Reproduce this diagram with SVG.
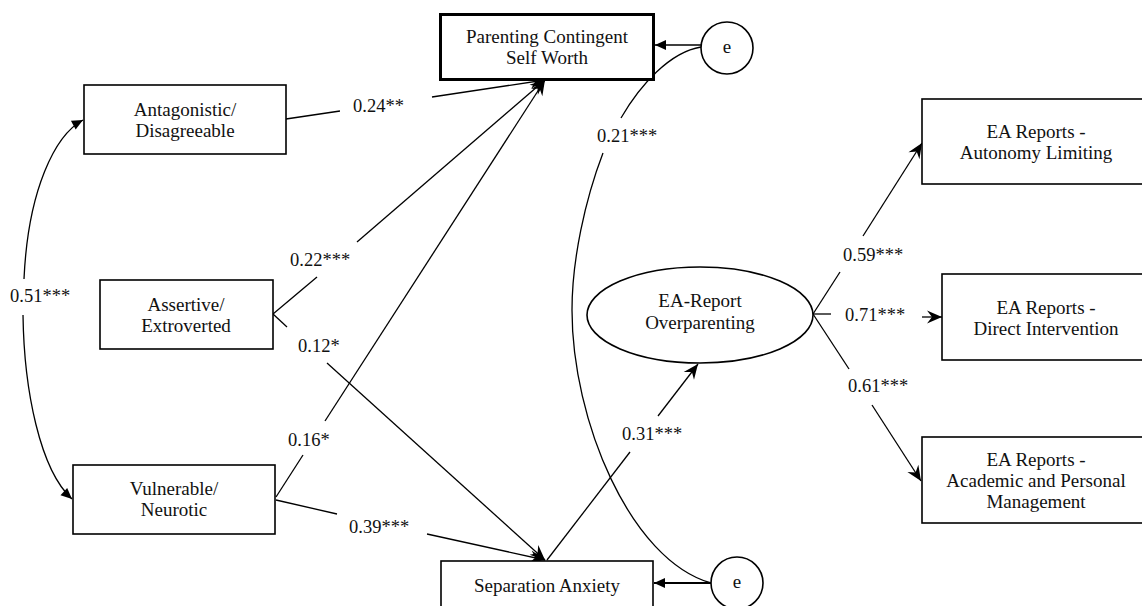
<svg xmlns="http://www.w3.org/2000/svg" width="1142" height="606" viewBox="0 0 1142 606">
<style>
.box{fill:#fff;stroke:#000;stroke-width:1.6}
.thick{fill:#fff;stroke:#000;stroke-width:3}
.t{font-family:"Liberation Serif","Times New Roman",serif;font-size:19px;fill:#111;text-anchor:middle}
.l{font-family:"Liberation Serif","Times New Roman",serif;font-size:18.5px;fill:#111}
.c{fill:none;stroke:#000;stroke-width:1.3}
.a{marker-end:url(#ah)}
.s{marker-end:url(#sm)}
</style>
<defs>
<marker id="ah" viewBox="-16 -8 17 16" refX="0" refY="0" markerWidth="17" markerHeight="16" markerUnits="userSpaceOnUse" orient="auto">
<path d="M0,0 L-15,-6.5 L-10,0 L-15,6.5 Z" fill="#000"/>
</marker>
<marker id="sm" viewBox="-12 -6 13 12" refX="0" refY="0" markerWidth="13" markerHeight="12" markerUnits="userSpaceOnUse" orient="auto">
<path d="M0,0 L-11,-5 L-11,5 Z" fill="#000"/>
</marker>
</defs>
<rect width="1142" height="606" fill="#fff"/>

<g id="connectors">
<path class="c s" d="M24,279 C28,190 55,135 83,120"/>
<path class="c s" d="M23,315 C24,390 40,470 72,499"/>
<path class="c" d="M286,119 L340,111"/>
<path class="c a" d="M432,97 L545,80"/>
<path class="c" d="M273,314 L317,277"/>
<path class="c a" d="M357,242 L545,80"/>
<path class="c" d="M276,497 L303,455"/>
<path class="c a" d="M325,421 L545,80"/>
<path class="c" d="M273,314 L287,327"/>
<path class="c a" d="M327,363 L545,560"/>
<path class="c" d="M276,500 L337,514"/>
<path class="c a" d="M427,534 L545,560"/>
<path class="c" d="M547,560 L630,452"/>
<path class="c a" d="M658,416 L698,364"/>
<path class="c" d="M813,314 L840,272"/>
<path class="c a" d="M863,236 L922,143"/>
<path class="c" d="M813,314 L831,314"/>
<path class="c a" d="M922,317 L942,317"/>
<path class="c" d="M813,314 L849,369"/>
<path class="c a" d="M872,405 L921,481"/>
<path class="c s" d="M701,45 L655,45"/>
<path class="c s" style="stroke-width:2" d="M711,583 L654,583"/>
<path class="c" d="M701,47 C670,52 640,85 621,118"/>
<path class="c" d="M603,153 C585,200 572,260 572,310 C572,420 630,560 711,583"/>
</g>

<g id="labels">
<text class="l" x="353" y="112">0.24**</text>
<text class="l" x="290" y="266">0.22***</text>
<text class="l" x="288" y="446">0.16*</text>
<text class="l" x="298" y="352">0.12*</text>
<text class="l" x="349" y="533">0.39***</text>
<text class="l" x="622" y="440">0.31***</text>
<text class="l" x="597" y="142">0.21***</text>
<text class="l" x="10" y="302">0.51***</text>
<text class="l" x="843" y="261">0.59***</text>
<text class="l" x="845" y="321">0.71***</text>
<text class="l" x="848" y="392">0.61***</text>
</g>

<g id="antagonistic">
<rect class="box" x="84" y="85" width="202" height="69"/>
<text class="t" x="185" y="116">Antagonistic/</text>
<text class="t" x="185" y="137">Disagreeable</text>
</g>
<g id="assertive">
<rect class="box" x="100" y="280" width="173" height="69"/>
<text class="t" x="186" y="311">Assertive/</text>
<text class="t" x="186" y="332">Extroverted</text>
</g>
<g id="vulnerable">
<rect class="box" x="73" y="465" width="202" height="69"/>
<text class="t" x="174" y="495">Vulnerable/</text>
<text class="t" x="174" y="516">Neurotic</text>
</g>
<g id="pcsw">
<rect class="thick" x="440.5" y="14.5" width="213" height="65"/>
<text class="t" x="547" y="43">Parenting Contingent</text>
<text class="t" x="547" y="64">Self Worth</text>
</g>
<g id="e1">
<circle class="box" cx="727" cy="48" r="26"/>
<text class="t" x="727" y="53">e</text>
</g>
<g id="sepanx">
<rect class="box" x="441" y="561" width="212" height="60"/>
<text class="t" x="547" y="592">Separation Anxiety</text>
</g>
<g id="e2">
<circle class="box" cx="737" cy="583" r="26"/>
<text class="t" x="737" y="588">e</text>
</g>
<g id="overparenting">
<ellipse class="box" cx="700" cy="315" rx="113" ry="48"/>
<text class="t" x="700" y="307">EA-Report</text>
<text class="t" x="700" y="329">Overparenting</text>
</g>
<g id="autonomy">
<rect class="box" x="922" y="99" width="240" height="85"/>
<text class="t" x="1036" y="138">EA Reports -</text>
<text class="t" x="1036" y="159">Autonomy Limiting</text>
</g>
<g id="direct">
<rect class="box" x="942" y="274" width="220" height="86"/>
<text class="t" x="1046" y="314">EA Reports -</text>
<text class="t" x="1046" y="335">Direct Intervention</text>
</g>
<g id="academic">
<rect class="box" x="922" y="437" width="240" height="86"/>
<text class="t" x="1036" y="466">EA Reports -</text>
<text class="t" x="1036" y="487">Academic and Personal</text>
<text class="t" x="1036" y="508">Management</text>
</g>
</svg>
